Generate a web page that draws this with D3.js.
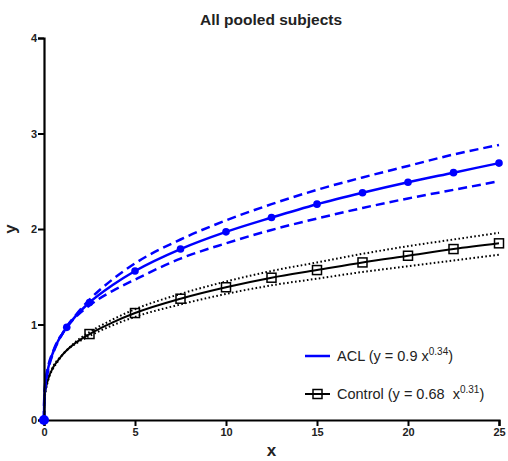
<!DOCTYPE html>
<html>
<head>
<meta charset="utf-8">
<script src="https://cdn.jsdelivr.net/npm/d3@7"></script>
<style>
  body { margin: 0; background: #fff; }
  text { font-family: "Liberation Sans", Arial, sans-serif; }
</style>
</head>
<body>
<div id="chart"></div>
<script>
// values
const xs = [0, 0.01, 0.05, 0.1, 0.25, 0.5, 0.75, 1, 1.25, 1.75, 2.5, 3.75, 5, 7.5, 10, 12.5, 15, 17.5, 20, 22.5, 25];
const aclFit   = [0, 0.19, 0.33, 0.41, 0.56, 0.71, 0.82, 0.90, 0.97, 1.09, 1.23, 1.41, 1.56, 1.79, 1.97, 2.12, 2.26, 2.38, 2.49, 2.59, 2.69];
const aclUpper = [0, 0.21, 0.36, 0.44, 0.58, 0.72, 0.83, 0.90, 0.98, 1.10, 1.26, 1.47, 1.64, 1.89, 2.09, 2.26, 2.41, 2.54, 2.66, 2.78, 2.88];
const aclLower = [0, 0.17, 0.30, 0.38, 0.54, 0.70, 0.81, 0.90, 0.97, 1.08, 1.20, 1.35, 1.47, 1.69, 1.85, 1.99, 2.11, 2.22, 2.32, 2.41, 2.50];
const ctlFit   = [0, 0.16, 0.27, 0.33, 0.44, 0.55, 0.62, 0.68, 0.73, 0.81, 0.90, 1.02, 1.12, 1.27, 1.39, 1.49, 1.57, 1.65, 1.72, 1.79, 1.85];
const ctlUpper = [0, 0.18, 0.29, 0.35, 0.45, 0.56, 0.63, 0.68, 0.73, 0.82, 0.92, 1.05, 1.16, 1.32, 1.45, 1.56, 1.65, 1.74, 1.82, 1.89, 1.96];
const ctlLower = [0, 0.15, 0.25, 0.31, 0.43, 0.54, 0.61, 0.68, 0.73, 0.80, 0.88, 0.99, 1.08, 1.21, 1.32, 1.41, 1.48, 1.55, 1.61, 1.67, 1.73];

const aclPointX = [0, 1.25, 2.5, 5, 7.5, 10, 12.5, 15, 17.5, 20, 22.5, 25];
const aclPointY = [0, 0.97, 1.23, 1.56, 1.79, 1.97, 2.12, 2.26, 2.38, 2.49, 2.59, 2.69];
const ctlPointX = [2.5, 5, 7.5, 10, 12.5, 15, 17.5, 20, 22.5, 25];
const ctlPointY = [0.90, 1.12, 1.27, 1.39, 1.49, 1.57, 1.65, 1.72, 1.79, 1.85];

const xTicks = [0, 5, 10, 15, 20, 25];
const yTicks = [0, 1, 2, 3, 4];

const width = 508, height = 461;
const margin = { top: 38, right: 9, bottom: 41, left: 44 };

const svg = d3.select("#chart").append("svg")
    .attr("width", width).attr("height", height);

const x = d3.scaleLinear().domain([0, 25]).range([margin.left, width - margin.right]);
const y = d3.scaleLinear().domain([0, 4]).range([height - margin.bottom, margin.top]);

const line = d3.line()
    .x(d => x(d[0]))
    .y(d => y(d[1]))
    .curve(d3.curveMonotoneX);

const pairs = vals => xs.map((v, i) => [v, vals[i]]);

// control group first, ACL on top
svg.append("path").attr("d", line(pairs(ctlUpper)))
    .attr("fill", "none").attr("stroke", "#000").attr("stroke-width", 2)
    .attr("stroke-dasharray", "1.6,2.4");
svg.append("path").attr("d", line(pairs(ctlLower)))
    .attr("fill", "none").attr("stroke", "#000").attr("stroke-width", 2)
    .attr("stroke-dasharray", "1.6,2.4");
svg.append("path").attr("d", line(pairs(ctlFit)))
    .attr("fill", "none").attr("stroke", "#000").attr("stroke-width", 2);

svg.selectAll(".sq").data(ctlPointX).enter().append("rect")
    .attr("x", (d) => x(d) - 4.5)
    .attr("y", (d, i) => y(ctlPointY[i]) - 4.5)
    .attr("width", 9).attr("height", 9)
    .attr("fill", "none").attr("stroke", "#000").attr("stroke-width", 1.5);

svg.append("path").attr("d", line(pairs(aclUpper)))
    .attr("fill", "none").attr("stroke", "#0000ff").attr("stroke-width", 2.5)
    .attr("stroke-dasharray", "9,5");
svg.append("path").attr("d", line(pairs(aclLower)))
    .attr("fill", "none").attr("stroke", "#0000ff").attr("stroke-width", 2.5)
    .attr("stroke-dasharray", "9,5");
svg.append("path").attr("d", line(pairs(aclFit)))
    .attr("fill", "none").attr("stroke", "#0000ff").attr("stroke-width", 2.5);

// axes
const xAxis = svg.append("g")
    .attr("transform", `translate(0,${y(0)})`)
    .call(d3.axisBottom(x).tickValues(xTicks).tickSize(6).tickPadding(2));
const yAxis = svg.append("g")
    .attr("transform", `translate(${x(0)},0)`)
    .call(d3.axisLeft(y).tickValues(yTicks).tickFormat(d3.format("d")).tickSize(6).tickPadding(1));

[xAxis, yAxis].forEach(g => {
    g.select(".domain").attr("stroke", "#000").attr("stroke-width", 2.2);
    g.selectAll(".tick line").attr("stroke", "#000").attr("stroke-width", 2);
    g.selectAll(".tick text")
        .attr("font-size", 11).attr("font-weight", "bold").attr("fill", "#222")
        .style("font-family", '"Liberation Sans", Arial, sans-serif');
});

svg.selectAll(".dot").data(aclPointX).enter().append("circle")
    .attr("cx", d => x(d))
    .attr("cy", (d, i) => y(aclPointY[i]))
    .attr("r", (d) => d === 0 ? 5 : 3.8)
    .attr("fill", "#0000ff");

// titles
svg.append("text")
    .attr("x", 271).attr("y", 25)
    .attr("text-anchor", "middle")
    .attr("font-size", 15.5).attr("font-weight", "bold").attr("fill", "#222")
    .text("All pooled subjects");

svg.append("text")
    .attr("x", x(12.5)).attr("y", 456)
    .attr("text-anchor", "middle")
    .attr("font-size", 17).attr("font-weight", "bold").attr("fill", "#222")
    .text("x");

svg.append("text")
    .attr("transform", `translate(16,${y(2)}) rotate(-90)`)
    .attr("text-anchor", "middle")
    .attr("font-size", 17).attr("font-weight", "bold").attr("fill", "#222")
    .text("y");

// legend
const legend = svg.append("g");
legend.append("line")
    .attr("x1", 305).attr("x2", 330).attr("y1", 356).attr("y2", 356)
    .attr("stroke", "#0000ff").attr("stroke-width", 2.5);
const t1 = legend.append("text")
    .attr("x", 337).attr("y", 361)
    .attr("font-size", 14.5).attr("fill", "#222");
t1.append("tspan").text("ACL (y = 0.9 x");
t1.append("tspan").attr("font-size", 10).attr("dy", -6).text("0.34");
t1.append("tspan").attr("dy", 6).text(")");

legend.append("line")
    .attr("x1", 305).attr("x2", 330).attr("y1", 394).attr("y2", 394)
    .attr("stroke", "#000").attr("stroke-width", 2);
legend.append("rect")
    .attr("x", 313).attr("y", 389.5).attr("width", 9).attr("height", 9)
    .attr("fill", "none").attr("stroke", "#000").attr("stroke-width", 1.5);
const t2 = legend.append("text")
    .attr("x", 337).attr("y", 399)
    .style("white-space", "pre")
    .attr("font-size", 14.5).attr("fill", "#222");
t2.append("tspan").text("Control (y = 0.68  x");
t2.append("tspan").attr("font-size", 10).attr("dy", -6).text("0.31");
t2.append("tspan").attr("dy", 6).text(")");
</script>
</body>
</html>
